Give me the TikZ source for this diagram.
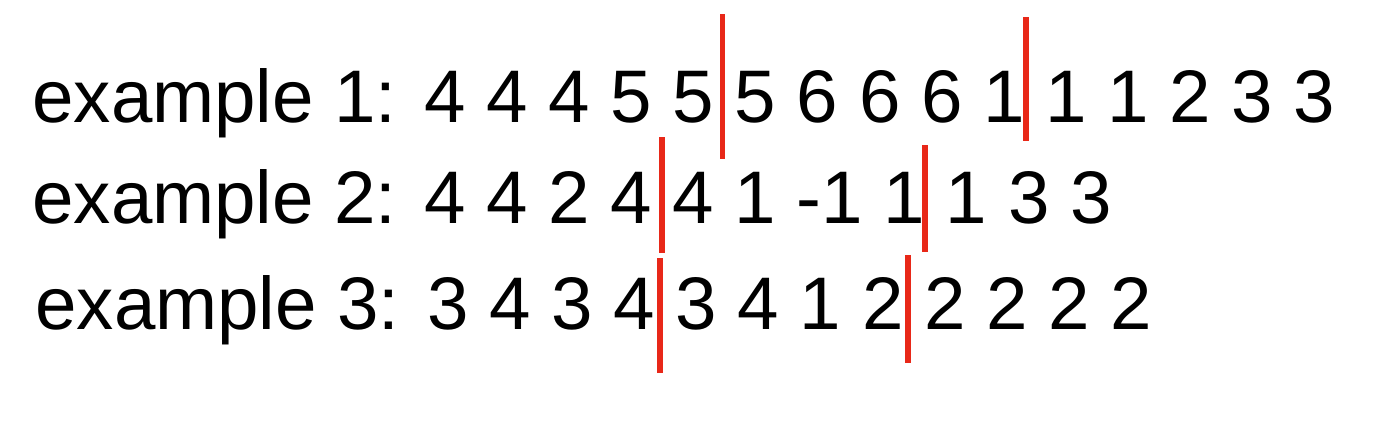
\documentclass[tikz,border=0pt]{standalone}
\usepackage{fontspec}
\setmainfont{Liberation Sans}
\usepackage{xcolor}
\usepackage{tikz}
\definecolor{cutred}{RGB}{232,40,24}

\begin{document}
\begin{tikzpicture}[x=0.02cm,y=-0.02cm,
  row/.style={anchor=base west,inner sep=0pt,font=\fontsize{42.4}{50}\selectfont},
  cut/.style={draw=cutred,line width=3.4pt}]

\useasboundingbox (0,0) rectangle (1400,420);

\node[row] (ex1) at (32,122) {example 1: 4 4 4 5 5 5 6 6 6 1 1 1 2 3 3};
\node[row] (ex2) at (32,223) {example 2: 4 4 2 4 4 1 -1 1 1 3 3};
\node[row] (ex3) at (35,329) {example 3: 3 4 3 4 3 4 1 2 2 2 2 2};

\draw[cut] (722.5,14)--(722.5,159);
\draw[cut] (1026,17)--(1026,141);

\draw[cut] (662,137)--(662,253);
\draw[cut] (925,145)--(925,252);

\draw[cut] (660,258)--(660,373);
\draw[cut] (908,255)--(908,363);

\end{tikzpicture}
\end{document}
